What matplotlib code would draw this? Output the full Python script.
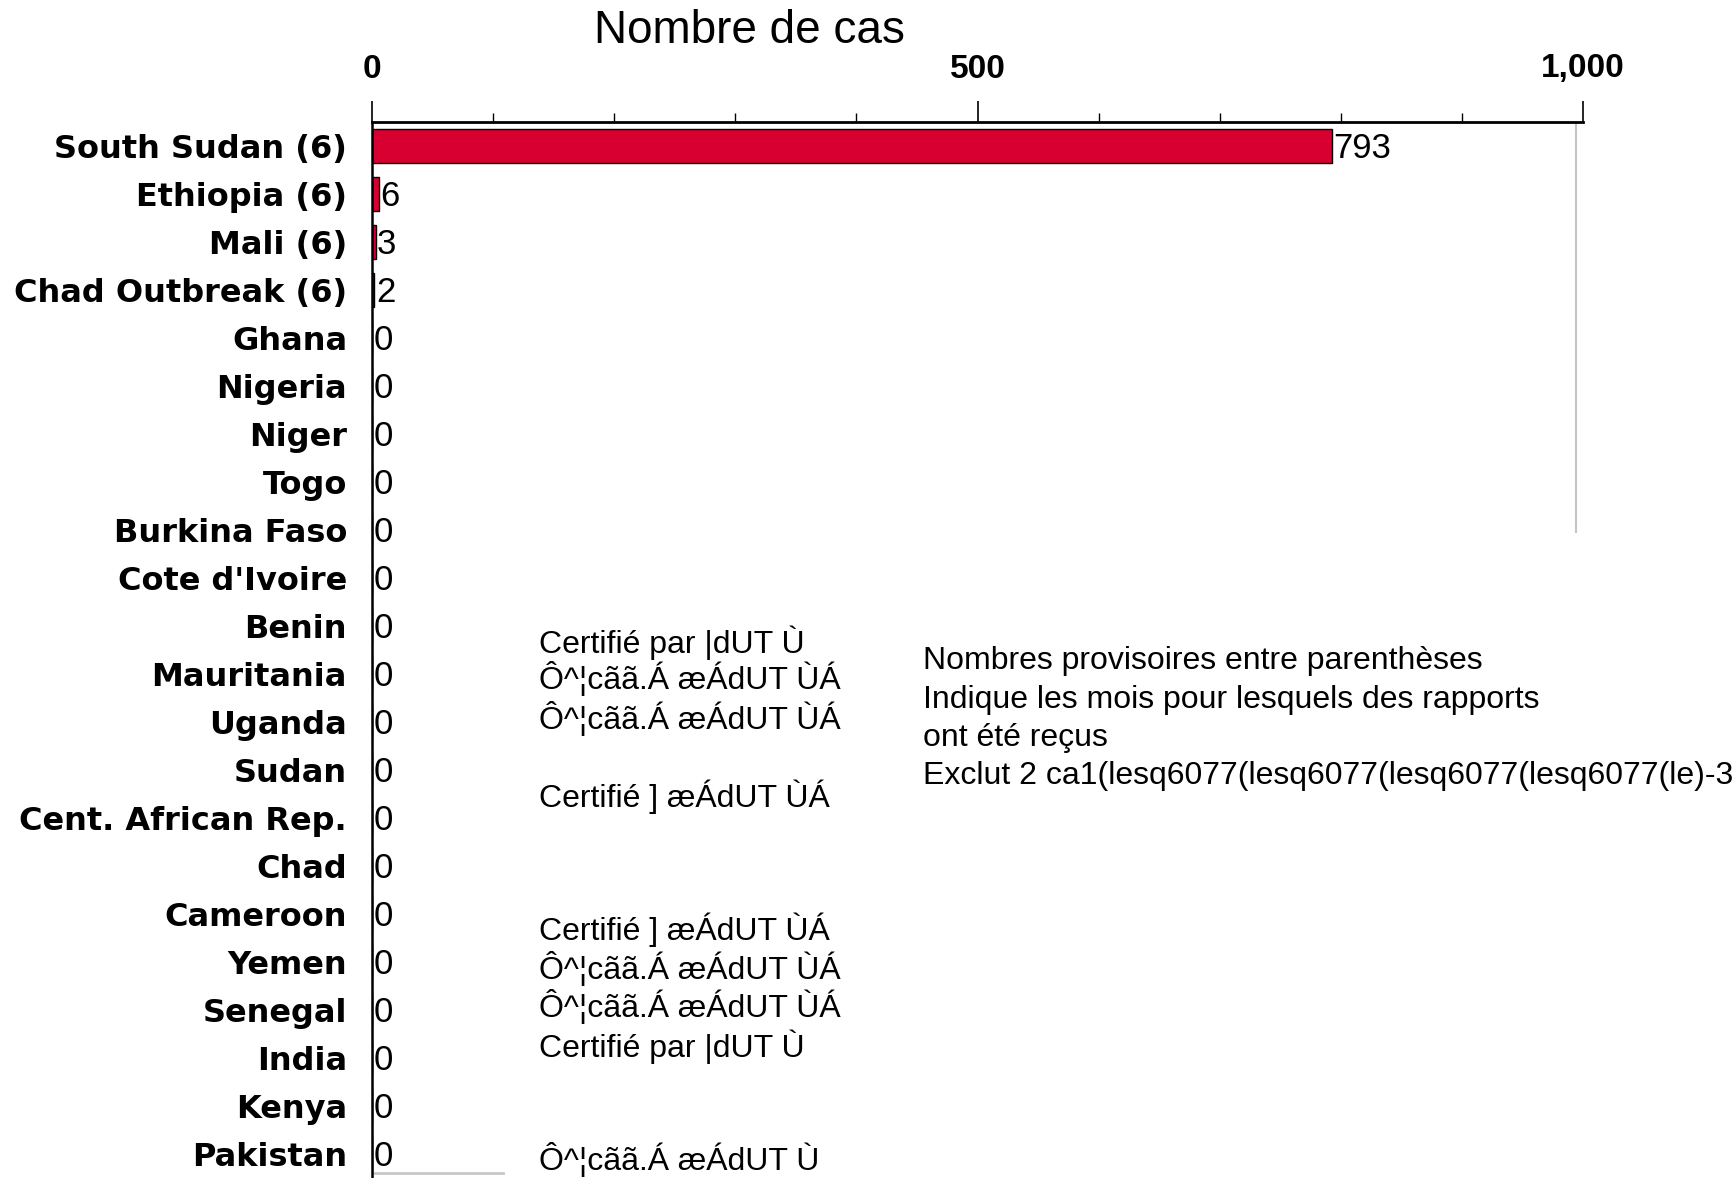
import matplotlib.pyplot as plt

W, H = 1732, 1178

# data
countries = ['South Sudan (6)', 'Ethiopia (6)', 'Mali (6)', 'Chad Outbreak (6)',
             'Ghana', 'Nigeria', 'Niger', 'Togo', 'Burkina Faso', "Cote d'Ivoire",
             'Benin', 'Mauritania', 'Uganda', 'Sudan', 'Cent. African Rep.', 'Chad',
             'Cameroon', 'Yemen', 'Senegal', 'India', 'Kenya', 'Pakistan']
cases = [793, 6, 3, 2, 0, 0, 0, 0, 0, 0, 0, 0, 0, 0, 0, 0, 0, 0, 0, 0, 0, 0]

major_ticks = [0, 500, 1000]
major_labels = ['0', '500', '1,000']
minor_ticks = list(range(0, 1001, 100))

title = 'Nombre de cas'

# left block of (garbled) certification notes, baseline in pixels
cert_lines = ['Certifié par |dUT Ù',
              'Ô^¦cãã.Á æÁdUT ÙÁ',
              'Ô^¦cãã.Á æÁdUT ÙÁ',
              'Certifié ] æÁdUT ÙÁ',
              'Certifié ] æÁdUT ÙÁ',
              'Ô^¦cãã.Á æÁdUT ÙÁ',
              'Ô^¦cãã.Á æÁdUT ÙÁ',
              'Certifié par |dUT Ù',
              'Ô^¦cãã.Á æÁdUT Ù']
cert_y = [653, 689, 729, 807, 940, 979, 1017, 1057, 1170]

note_lines = ['Nombres provisoires entre parenthèses',
              'Indique les mois pour lesquels des rapports',
              'ont été reçus',
              'Exclut 2 ca1(lesq6077(lesq6077(lesq6077(lesq6077(le)-3']
note_y = [669, 708, 746, 784]

BAR_COLOR = '#d70030'
FONT = 'Liberation Sans'

fig = plt.figure(figsize=(W / 100, H / 100), dpi=100)
ax = fig.add_axes([372 / W, 0, (1583 - 372) / W, 1 - 122 / H])

y = list(range(len(countries)))
ax.barh(y, cases, height=0.72, color=BAR_COLOR, edgecolor='black', linewidth=1)
ax.set_xlim(0, 1000)
ax.set_ylim(len(countries) - 0.5, -0.5)

for i, v in enumerate(cases):
    ax.annotate(str(v), (v, i), xytext=(1, -1.5), textcoords='offset points',
                va='center', ha='left', fontsize=25, family=FONT)

# axis on top
ax.xaxis.tick_top()
ax.set_xticks(major_ticks)
ax.set_xticklabels(major_labels, fontsize=24, fontweight='bold', family=FONT)
ax.set_xticks(minor_ticks, minor=True)
ax.tick_params(axis='x', which='major', length=15, width=1.2, pad=12)
ax.tick_params(axis='x', which='minor', length=6.5, width=1.0)

ax.set_yticks(y)
ax.set_yticklabels(countries, fontsize=23, fontweight='bold', family='DejaVu Sans')
ax.tick_params(axis='y', length=0, pad=18)

for s in ['right', 'bottom']:
    ax.spines[s].set_visible(False)
ax.spines['top'].set_linewidth(2)
ax.spines['left'].set_linewidth(1.8)

# leftover plot-area borders
ax.axvline(994, ymin=0.612, ymax=1, color='#c4c4c4', lw=1.5)
ax.axhline(21.4, xmin=0, xmax=0.108, color='#c8c8c8', lw=2)

fig.text(749 / W, 1 - 43 / H, title, ha='center', va='baseline',
         fontsize=33, family=FONT)

for t, yy in zip(cert_lines, cert_y):
    fig.text(539 / W, 1 - yy / H, t, ha='left', va='baseline', fontsize=23, family=FONT)
for t, yy in zip(note_lines, note_y):
    fig.text(923 / W, 1 - yy / H, t, ha='left', va='baseline', fontsize=23, family=FONT)

fig.savefig('out.png', dpi=100)
